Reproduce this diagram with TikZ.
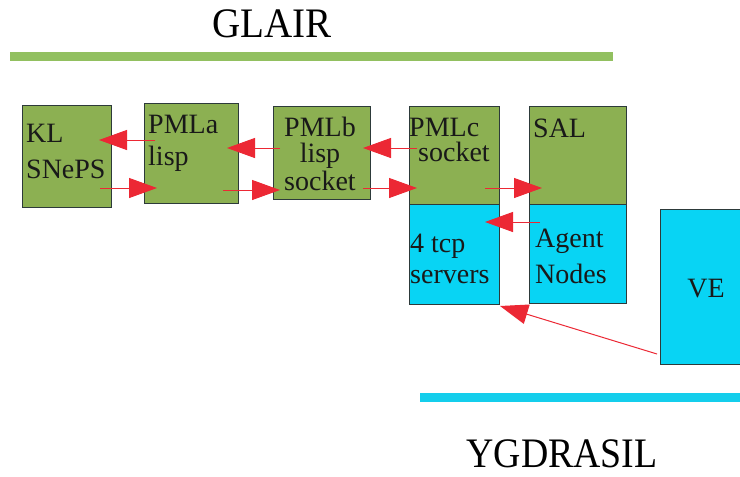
\documentclass[tikz,border=0pt]{standalone}
\usepackage{fontspec}
\setmainfont{Liberation Serif}
\usetikzlibrary{arrows.meta,calc}
\definecolor{boxgreen}{RGB}{140,176,82}
\definecolor{bargreen}{RGB}{146,192,96}
\definecolor{boxcyan}{RGB}{8,212,244}
\definecolor{barcyan}{RGB}{20,206,236}
\definecolor{arrred}{RGB}{236,40,52}
\definecolor{edgegray}{RGB}{45,58,58}
\tikzset{
  gbox/.style={draw=edgegray, line width=1.2pt, fill=boxgreen, rectangle, inner sep=0pt, anchor=north west},
  cbox/.style={draw=edgegray, line width=1.2pt, fill=boxcyan, rectangle, inner sep=0pt, anchor=north west},
  txt/.style={inner sep=0pt, anchor=base west, font=\fontsize{28}{32}\selectfont, text=black!90},
  ctxt/.style={inner sep=0pt, anchor=base, font=\fontsize{28}{32}\selectfont, text=black!90},
  title/.style={inner sep=0pt, anchor=base, font=\fontsize{42}{48}\selectfont, text=black},
  link/.style={draw=arrred, line width=1pt, -{Triangle[length=28pt,width=20pt]}, arrred}
}
\begin{document}
\begin{tikzpicture}[x=1pt,y=-1pt]
\useasboundingbox (0,0) rectangle (740,477);
\fill[white] (0,0) rectangle (740,477);
% titles and bars
\node[title] (glair) at (272,37) {\scalebox{0.93}[1]{GLAIR}};
\node[fill=bargreen, inner sep=0pt, anchor=north west, minimum width=603pt, minimum height=9pt] (gbar) at (10,52) {};
\node[fill=barcyan, inner sep=0pt, anchor=north west, minimum width=322pt, minimum height=9pt] (cbar) at (420,393) {};
\node[title] (ygg) at (562,467) {\scalebox{0.9}[1]{YGDRASIL}};
% boxes
\node[gbox, minimum width=89pt, minimum height=102pt] (kl) at (22,105) {};
\node[gbox, minimum width=94pt, minimum height=100pt] (pmla) at (144,103) {};
\node[gbox, minimum width=97pt, minimum height=93pt] (pmlb) at (273,106) {};
\node[gbox, minimum width=90pt, minimum height=98pt] (pmlc) at (409,106) {};
\node[cbox, minimum width=90pt, minimum height=100pt] (tcp) at (409,204) {};
\node[gbox, minimum width=97pt, minimum height=98pt] (sal) at (529,106) {};
\node[cbox, minimum width=97pt, minimum height=99pt] (agent) at (529,204) {};
\node[cbox, minimum width=90pt, minimum height=155pt] (ve) at (660,209) {};
% texts
\node[txt] (kl1) at (26,142) {KL};
\node[txt] (kl2) at (26,178) {SNePS};
\node[txt] (pa1) at (148,133) {PMLa};
\node[txt] (pa2) at (148,165) {lisp};
\node[ctxt] (pb1) at (320,136) {PMLb};
\node[ctxt] (pb2) at (320,162) {lisp};
\node[ctxt] (pb3) at (320,190) {socket};
\node[txt] (pc1) at (409,136) {PMLc};
\node[txt] (pc2) at (418,161) {socket};
\node[txt] (sal1) at (533,137) {SAL};
\node[txt] (tcp1) at (410,252) {4 tcp};
\node[txt] (tcp2) at (410,283) {servers};
\node[txt] (ag1) at (535,247) {Agent};
\node[txt] (ag2) at (535,283) {Nodes};
\node[ctxt] (ve1) at (706,297) {VE};
% arrows
\draw[link] ($(pmla.north west)+(11,37)$) -- ($(kl.north west)+(77,35)$);
\draw[link] ($(kl.north west)+(78,83)$) -- ($(pmla.north west)+(13,85)$);
\draw[link] ($(pmlb.north west)+(7,42)$) -- ($(pmla.north west)+(83,45)$);
\draw[link] ($(pmla.north west)+(79,87)$) -- ($(pmlb.north west)+(7,84)$);
\draw[link] ($(pmlc.north west)+(8,42)$) -- ($(pmlb.north west)+(90,42)$);
\draw[link] ($(pmlb.north west)+(90,82)$) -- ($(pmlc.north west)+(8,82)$);
\draw[link] ($(pmlc.north west)+(76,82)$) -- ($(sal.north west)+(13,82)$);
\draw[link] ($(agent.north west)+(11,18)$) -- ($(tcp.north west)+(76,18)$);
\draw[link] ($(ve.north west)+(-3,145)$) -- ($(tcp.north west)+(91,102)$);
\end{tikzpicture}
\end{document}
